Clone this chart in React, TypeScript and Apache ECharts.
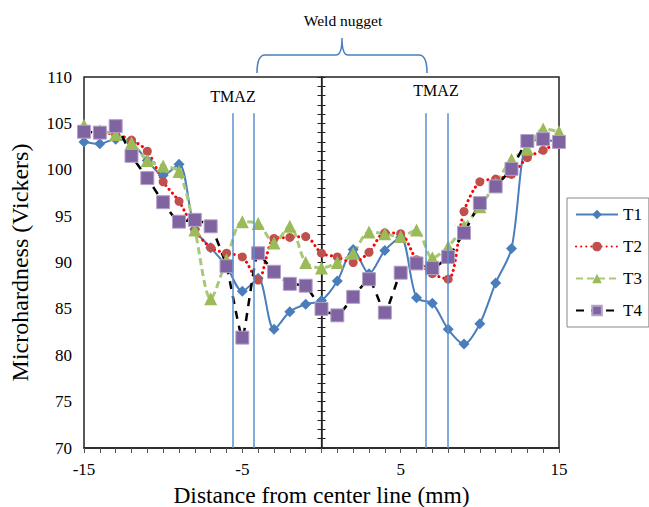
import React, { useEffect, useRef } from "react";
import * as echarts from "echarts";

const positions = [-15, -14, -13, -12, -11, -10, -9, -8, -7, -6, -5, -4, -3, -2, -1, 0, 1, 2, 3, 4, 5, 6, 7, 8, 9, 10, 11, 12, 13, 14, 15];
const t1 = [103.0, 102.8, 103.3, 102.9, 101.0, 99.4, 100.6, 93.6, 91.6, 89.6, 86.9, 88.3, 82.8, 84.7, 85.5, 85.9, 88.0, 91.4, 88.8, 91.3, 92.7, 86.2, 85.6, 82.8, 81.2, 83.4, 87.8, 91.5, 103.0, 103.2, 103.0];
const t2 = [104.2, 104.0, 103.8, 103.2, 102.0, 98.7, 96.6, 93.5, 91.6, 91.0, 90.6, 88.1, 92.6, 92.7, 92.8, 91.0, 90.6, 90.0, 91.1, 93.2, 93.1, 90.3, 88.8, 88.2, 95.5, 98.7, 99.0, 99.5, 101.3, 102.1, 103.0];
const t3 = [104.8, 104.2, 103.8, 102.9, 101.0, 100.4, 99.8, 93.5, 86.1, 90.3, 94.4, 94.2, 92.1, 93.9, 90.0, 89.4, 90.0, 91.0, 93.3, 93.1, 92.8, 93.5, 90.5, 91.7, 93.9, 96.0, 98.5, 101.1, 102.2, 104.4, 104.1];
const t4 = [104.1, 104.0, 104.7, 101.5, 99.1, 96.5, 94.4, 94.6, 93.9, 89.6, 81.9, 91.0, 89.0, 87.7, 87.5, 85.0, 84.3, 86.3, 88.2, 84.6, 88.9, 89.9, 89.4, 90.6, 93.2, 96.4, 98.2, 100.1, 103.1, 103.3, 103.0];
const seriesNames = ["T1", "T2", "T3", "T4"];
const zoneLines = [-5.6, -4.25, 6.6, 8.0];
const xTicks = { min: -15, max: 15, step: 10 };
const yTicks = { min: 70, max: 110, step: 5 };

const FONT = "Liberation Serif";

const bracePath = "M0,35 Q0,17 8,17 L79,17 Q85,17 85,0 Q85,17 91,17 L162,17 Q170,17 170,35";
echarts.graphic.registerShape("brace", echarts.graphic.extendPath(bracePath, {}));

export default function App() {
  const ref = useRef<HTMLDivElement>(null);
  useEffect(() => {
    if (!ref.current) return;
    const chart = echarts.init(ref.current, null, { renderer: "svg" });
    const pair = (arr: number[]) => arr.map((v, i) => [positions[i], v]);
    const common = { smooth: 0.3, z: 3 };
    chart.setOption({
      animation: false,
      backgroundColor: "#fff",
      textStyle: { fontFamily: FONT },
      grid: { left: 84, right: 90, top: 77, bottom: 59, show: true, borderColor: "#222", borderWidth: 1.5, outerBoundsMode: "none" },
      legend: {
        orient: "vertical",
        left: 567,
        top: 198,
        itemWidth: 42,
        itemHeight: 12,
        itemGap: 15,
        padding: [8, 7, 8, 8],
        borderColor: "#888",
        borderWidth: 1,
        textStyle: { fontFamily: FONT, fontSize: 17, color: "#000" },
        data: seriesNames,
      },
      xAxis: {
        type: "value",
        min: xTicks.min,
        max: xTicks.max,
        interval: xTicks.step,
        name: "Distance from center line (mm)",
        nameLocation: "middle",
        nameGap: 29,
        nameTextStyle: { fontFamily: FONT, fontSize: 23.5, lineHeight: 23, color: "#000" },
        axisLine: { show: true, onZero: false, lineStyle: { color: "#222", width: 1.5 } },
        axisTick: { show: true, length: 5, lineStyle: { color: "#555" } },
        minorTick: { show: true, splitNumber: 10, length: 5, lineStyle: { color: "#555" } },
        axisLabel: { fontFamily: FONT, fontSize: 17, color: "#000", margin: 13 },
        splitLine: { show: false },
      },
      yAxis: [
        {
          type: "value",
          min: yTicks.min,
          max: yTicks.max,
          interval: yTicks.step,
          name: "Microhardness (Vickers)",
          nameLocation: "middle",
          nameGap: 52,
          nameTextStyle: { fontFamily: FONT, fontSize: 24, color: "#000" },
          axisLine: { show: true, lineStyle: { color: "#222", width: 1.5 } },
          axisTick: { show: false },
          axisLabel: { fontFamily: FONT, fontSize: 17, color: "#000", margin: 12 },
          splitLine: { show: false },
        },
        {
          type: "value",
          min: yTicks.min,
          max: yTicks.max,
          interval: 1,
          position: "left",
          offset: -237.5,
          axisLine: { show: true, lineStyle: { color: "#222", width: 1.2 } },
          axisTick: { show: true, inside: true, length: 4, lineStyle: { color: "#222" } },
          axisLabel: { show: false },
          splitLine: { show: false },
        },
        {
          type: "value",
          min: yTicks.min,
          max: yTicks.max,
          interval: 1,
          position: "left",
          offset: -237.5,
          axisLine: { show: false },
          axisTick: { show: true, inside: false, length: 4, lineStyle: { color: "#222" } },
          axisLabel: { show: false },
          splitLine: { show: false },
        },
      ],
      series: [
        {
          ...common,
          name: "T1",
          type: "line",
          data: pair(t1),
          symbol: "diamond",
          symbolSize: 11,
          itemStyle: { color: "#4A7EBB" },
          lineStyle: { color: "#4A7EBB", width: 2 },
          markLine: {
            silent: true,
            symbol: "none",
            label: { show: false },
            lineStyle: { color: "#5B8FD0", width: 1.5, type: "solid" },
            data: zoneLines.map((x) => [{ coord: [x, 70] }, { coord: [x, 106.1] }]),
          },
        },
        {
          ...common,
          name: "T2",
          type: "line",
          data: pair(t2),
          symbol: "circle",
          symbolSize: 9,
          itemStyle: { color: "#C0504D" },
          lineStyle: { color: "#FF0000", width: 3, type: [0.1, 5], cap: "round" },
        },
        {
          ...common,
          name: "T3",
          type: "line",
          data: pair(t3),
          symbol: "triangle",
          symbolSize: 13,
          itemStyle: { color: "#9BBB59" },
          lineStyle: { color: "#A8C87A", width: 3, type: [7, 4] },
        },
        {
          ...common,
          name: "T4",
          type: "line",
          data: pair(t4),
          symbol: "rect",
          symbolSize: 13,
          smooth: 0.15,
          itemStyle: { color: "#8064A2", borderColor: "#B3A2C7", borderWidth: 1 },
          lineStyle: { color: "#000", width: 2.5, type: [8, 7] },
        },
      ],
      graphic: [
        { type: "brace", x: 257, y: 38, style: { stroke: "#4A7EBB", lineWidth: 1.5, fill: "none" } },
        { type: "text", x: 343, y: 20, style: { text: "Weld nugget", font: `15.5px ${FONT}`, fill: "#000", align: "center", verticalAlign: "middle" } },
        { type: "text", x: 233, y: 96, style: { text: "TMAZ", font: `16px ${FONT}`, fill: "#000", align: "center", verticalAlign: "middle" } },
        { type: "text", x: 436, y: 90, style: { text: "TMAZ", font: `16px ${FONT}`, fill: "#000", align: "center", verticalAlign: "middle" } },
      ],
    });
    return () => chart.dispose();
  }, []);
  return <div ref={ref} style={{ width: 649, height: 507, position: "absolute", left: 0, top: 0 }} />;
}
